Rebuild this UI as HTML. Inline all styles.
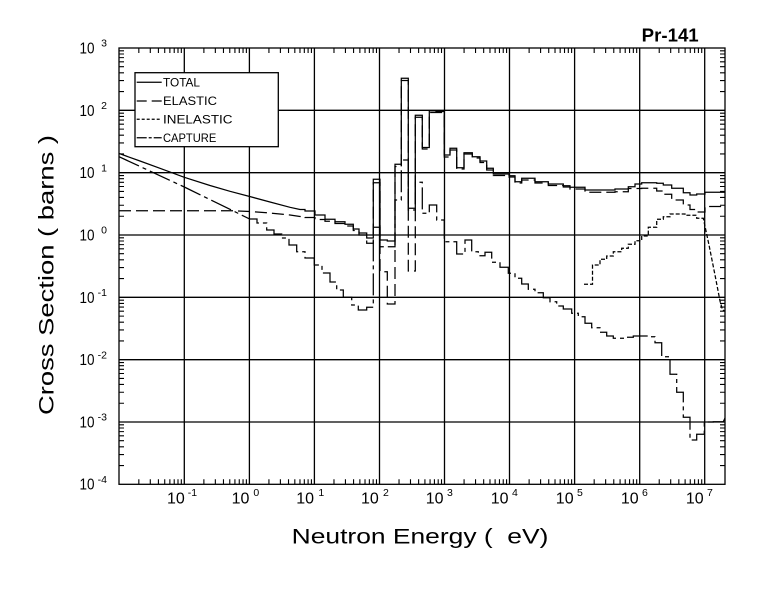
<!DOCTYPE html>
<html>
<head>
<meta charset="utf-8">
<style>
  html,body{margin:0;padding:0;background:#fff;}
  svg{display:block;}
  text{font-family:"Liberation Sans", "DejaVu Sans", sans-serif; fill:#000;}
</style>
</head>
<body>
<svg width="780" height="589" viewBox="0 0 780 589" xmlns="http://www.w3.org/2000/svg">
  <rect x="0" y="0" width="780" height="589" fill="#fff"/>
  <defs>
    <clipPath id="c"><rect x="119" y="48" width="606" height="436.3"/></clipPath>
    <path id="yl" d="M0,-18.76h5M0,-29.74h5M0,-37.53h5M0,-43.57h5M0,-48.51h5M0,-52.68h5M0,-56.29h5M0,-59.48h5"/>
    <path id="yr" d="M0,-18.76h-5M0,-29.74h-5M0,-37.53h-5M0,-43.57h-5M0,-48.51h-5M0,-52.68h-5M0,-56.29h-5M0,-59.48h-5"/>
    <path id="xb" d="M19.58,0v-5M31.04,0v-5M39.17,0v-5M45.47,0v-5M50.62,0v-5M54.97,0v-5M58.75,0v-5M62.07,0v-5"/>
    <path id="xt" d="M19.58,0v5M31.04,0v5M39.17,0v5M45.47,0v5M50.62,0v5M54.97,0v5M58.75,0v5M62.07,0v5"/>
  </defs>

  <!-- grid -->
  <g stroke="#000" stroke-width="1.3" fill="none">
    <path d="M184.3,48V484.3M249.4,48V484.3M314.4,48V484.3M379.5,48V484.3M444.5,48V484.3M509.5,48V484.3M574.6,48V484.3M639.7,48V484.3M704.7,48V484.3"/>
    <path d="M119,110.3H725M119,172.7H725M119,235H725M119,297.3H725M119,359.7H725M119,422H725"/>
    <rect x="119" y="48" width="606" height="436.3"/>
  </g>

  <!-- minor ticks -->
  <g stroke="#000" stroke-width="1.1" fill="none">
    <use href="#yl" x="119" y="484.3"/><use href="#yl" x="119" y="422"/><use href="#yl" x="119" y="359.7"/>
    <use href="#yl" x="119" y="297.3"/><use href="#yl" x="119" y="235"/><use href="#yl" x="119" y="172.7"/><use href="#yl" x="119" y="110.3"/>
    <use href="#yr" x="725" y="484.3"/><use href="#yr" x="725" y="422"/><use href="#yr" x="725" y="359.7"/>
    <use href="#yr" x="725" y="297.3"/><use href="#yr" x="725" y="235"/><use href="#yr" x="725" y="172.7"/><use href="#yr" x="725" y="110.3"/>
    <use href="#xb" x="119.25" y="484.3"/><use href="#xb" x="184.3" y="484.3"/><use href="#xb" x="249.35" y="484.3"/>
    <use href="#xb" x="314.4" y="484.3"/><use href="#xb" x="379.45" y="484.3"/><use href="#xb" x="444.5" y="484.3"/>
    <use href="#xb" x="509.55" y="484.3"/><use href="#xb" x="574.6" y="484.3"/><use href="#xb" x="639.65" y="484.3"/>
    <use href="#xt" x="119.25" y="48"/><use href="#xt" x="184.3" y="48"/><use href="#xt" x="249.35" y="48"/>
    <use href="#xt" x="314.4" y="48"/><use href="#xt" x="379.45" y="48"/><use href="#xt" x="444.5" y="48"/>
    <use href="#xt" x="509.55" y="48"/><use href="#xt" x="574.6" y="48"/><use href="#xt" x="639.65" y="48"/>
  </g>

  <!-- curves -->
  <g clip-path="url(#c)" fill="none" stroke="#000" stroke-width="1.25">
    <!-- TOTAL -->
    <path d="M119,153.5 L140,161 L160,168.3 L184.3,177.3 L210,185.5 L230,191.3 L249.7,196.5 L270,202 L290,207.3 L300,209.5 H305 V211 H315 V215 H325 V219.3 H335 V221.7 H345 V224.3 H353.3 V229 H359 V233 H366.7 V238 H373.3 V179.3 H380 V240 H387.3 V241 H395 V164.3 H401.3 V78.3 H408.3 V208.3 H415.3 V115.3 H422.3 V147.5 H429.3 V110.7 H436 V111.5 H444.3 V155 H450 V148.3 H456.7 V167.7 H464 V152.7 H472.3 V156.7 H480 V161 H486.7 V168.3 H493.3 V174 H509 V175.7 H515 V181.7 H521.7 V178.3 H535 V181.7 H548.3 V184 H563.3 V185.7 H570 V187.3 H585 V190 H615 V189 H628.3 V186.7 H635 V184 H641.7 V182.7 H656.7 V183.3 H663.3 V185 H671.7 V188.3 H683.3 V192.7 H690 V195 H696.7 V194 H705 V192.3 H725"/>
    <!-- ELASTIC -->
    <path stroke-dasharray="12 5" d="M119,210.7 H232 L249.7,211.5 L270,213 L290,215 L300,216.5 H305 V217.5 H315 V219.5 H325 V221.3 H335 V223.5 H345 V226 H353.3 V230.5 H359 V235 H366.7 V243.3 H373.3 V182.7 H380 V271.7 H387.3 V304 H395 V166.5 H401.3 V80.5 H408.3 V271 H415.3 V117.3 H422.3 V149 H429.3 V112.5 H444.3 V157 H450 V150 H456.7 V169 H464 V154 H472.3 V158 H480 V162.5 H486.7 V170 H493.3 V175.5 H509 V177 H515 V183 H521.7 V180 H535 V183 H548.3 V185.5 H563.3 V187 H570 V189 H585 V192.3 H615 V191.7 H628.3 V188.5 H641.7 V188.3 H656.7 V191 H663.3 V194.3 H671.7 V200 H683.3 V205 H690 V209.5 H696.7 V212 H705 V206.5 H725"/>
    <!-- CAPTURE -->
    <path stroke-dasharray="22 4 4 4" d="M119,156.7 L184.3,187 L249.7,219 H257 V223 H266.7 V230 H274 V234 H281.7 V238 H289 V245 H296.7 V251.7 H305 V258 H314.3 V265 H322 V273 H330 V282 H336.7 V290 H343.3 V297.3 H351.7 V305 H358.3 V310 H366.7 V307.3 H373.3 V227.3 H380 V246.7 H395 V200 H401.3 V160 H408.3 V210 H415.3 V182.3 H422.3 V213.3 H429.3 V205 H436.7 V220 H444.3 V241.7 H456.7 V254 H465 V240 H471.7 V251.7 H478.3 V255.7 H485 V252.3 H491.7 V262.3 H500 V267.3 H508.3 V273.3 H515 V278.3 H521.7 V284 H528.3 V289.3 H535 V292.7 H543.3 V297.7 H550 V301.7 H556.7 V306 H563.3 V309 H571.7 V313.3 H578.3 V316.7 H585 V323.3 H591.7 V327.7 H600 V332.3 H606.7 V336 H613.3 V338.3 H626.7 V337.3 H633.3 V336 H648.3 V336.7 H655 V342.7 H661.7 V356.7 H670 V374.3 H676.7 V392.3 H683.3 V417.3 H690 V440 H696.7 V434.3 H704.3 V422 H713.3 V421.7 H723.3 L725,418"/>
    <!-- INELASTIC -->
    <path stroke-dasharray="4 2" d="M584,284.3 H592.5 V265 H600 V259.3 H606.7 V256 H613.3 V251.7 H621.7 V248.3 H628.3 V244.3 H635 V240.7 H641.7 V236 H648.3 V227.3 H656.7 V219.3 H663.3 V216.7 H670 V214 H685 V215.3 H696.7 V218.3 H703.3 L709,245 L715,275 L720,301 L722.5,310 L725,311"/>
  </g>

  <!-- legend -->
  <rect x="135" y="72.7" width="143.3" height="74" fill="#fff" stroke="#000" stroke-width="1.3"/>
  <g stroke="#000" stroke-width="1.25" fill="none">
    <path d="M136.7,82.3H161.7"/>
    <path d="M136.7,101H161.7" stroke-dasharray="10 5"/>
    <path d="M136.7,119.3H161.7" stroke-dasharray="3 2"/>
    <path d="M136.7,137.7H161.7" stroke-dasharray="10 2 3 2"/>
  </g>
  <g font-size="11.5">
    <text x="163" y="86.7" textLength="37" lengthAdjust="spacingAndGlyphs">TOTAL</text>
    <text x="163" y="105.2" textLength="54" lengthAdjust="spacingAndGlyphs">ELASTIC</text>
    <text x="163" y="123.6" textLength="69.5" lengthAdjust="spacingAndGlyphs">INELASTIC</text>
    <text x="163" y="142" textLength="53.3" lengthAdjust="spacingAndGlyphs">CAPTURE</text>
  </g>

  <!-- title -->
  <text x="641.7" y="41.7" font-size="18.5" font-weight="bold" textLength="57" lengthAdjust="spacingAndGlyphs">Pr-141</text>

  <!-- y tick labels -->
  <g font-size="15.5">
    <text x="79.5" y="53.5" textLength="15" lengthAdjust="spacingAndGlyphs">10</text>
    <text x="79.5" y="115.8" textLength="15" lengthAdjust="spacingAndGlyphs">10</text>
    <text x="79.5" y="178.2" textLength="15" lengthAdjust="spacingAndGlyphs">10</text>
    <text x="79.5" y="240.5" textLength="15" lengthAdjust="spacingAndGlyphs">10</text>
    <text x="79.5" y="302.8" textLength="15" lengthAdjust="spacingAndGlyphs">10</text>
    <text x="79.5" y="365.2" textLength="15" lengthAdjust="spacingAndGlyphs">10</text>
    <text x="79.5" y="427.5" textLength="15" lengthAdjust="spacingAndGlyphs">10</text>
    <text x="79.5" y="489.5" textLength="15" lengthAdjust="spacingAndGlyphs">10</text>
  </g>
  <g font-size="10.5" text-anchor="end">
    <text x="107" y="46.7">3</text>
    <text x="107" y="109">2</text>
    <text x="107" y="171.4">1</text>
    <text x="107" y="233.7">0</text>
    <text x="107" y="296">-1</text>
    <text x="107" y="358.4">-2</text>
    <text x="107" y="420.7">-3</text>
    <text x="107" y="483">-4</text>
  </g>

  <!-- x tick labels -->
  <g font-size="16" text-anchor="end">
    <text x="184.8" y="503.3">10</text>
    <text x="249.4" y="503.3">10</text>
    <text x="314" y="503.3">10</text>
    <text x="378.8" y="503.3">10</text>
    <text x="443.5" y="503.3">10</text>
    <text x="508.5" y="503.3">10</text>
    <text x="573.6" y="503.3">10</text>
    <text x="638.7" y="503.3">10</text>
    <text x="703.7" y="503.3">10</text>
  </g>
  <g font-size="10.5">
    <text x="187.8" y="496">-1</text>
    <text x="253.4" y="496">0</text>
    <text x="318.4" y="496">1</text>
    <text x="383" y="496">2</text>
    <text x="447" y="496">3</text>
    <text x="512" y="496">4</text>
    <text x="577" y="496">5</text>
    <text x="642" y="496">6</text>
    <text x="707" y="496">7</text>
  </g>

  <!-- axis titles -->
  <text x="291.7" y="543.3" font-size="21" style="white-space:pre" textLength="256.7" lengthAdjust="spacingAndGlyphs">Neutron Energy (  eV)</text>
  <text transform="translate(53.3,415) rotate(-90)" font-size="21" style="white-space:pre" textLength="280" lengthAdjust="spacingAndGlyphs">Cross Section ( barns )</text>
</svg>
</body>
</html>
